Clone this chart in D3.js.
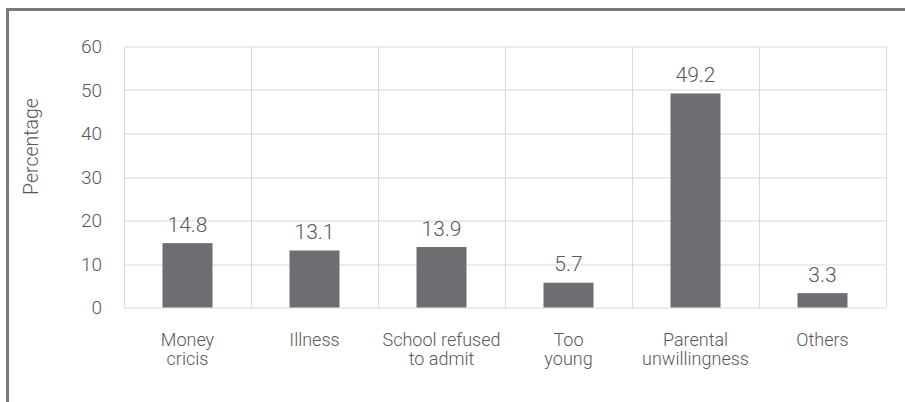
<html>
<head>
<meta charset="UTF-8">
<title>Reasons for not attending school</title>
<script src="https://d3js.org/d3.v7.min.js"></script>
<style>
  html, body { margin: 0; padding: 0; background: #fff; }
  svg text { font-family: Roboto, "Liberation Sans", Arial, sans-serif; font-weight: 300; fill: #585858; }
  .grid line { stroke: #d9d9d9; stroke-width: 1; }
  .bar { fill: #6d6e71; }
</style>
</head>
<body>
<div id="container"></div>
<script>
const categories = [["Money", "cricis"], ["Illness"], ["School refused", "to admit"], ["Too", "young"], ["Parental", "unwillingness"], ["Others"]];
const values = [14.8, 13.1, 13.9, 5.7, 49.2, 3.3];
const yTicks = [0, 10, 20, 30, 40, 50, 60];

const W = 905, H = 402;
const marge = { top: 46.5, left: 124, right: 19, bottom: 94.5 };
const width = W - marge.left - marge.right,
      height = H - marge.top - marge.bottom;

const svg = d3.select("#container").append("svg")
  .attr("width", W).attr("height", H);

// frame (only top and left edges visible)
svg.append("rect")
  .attr("x", 7.5).attr("y", 9.5)
  .attr("width", 1200).attr("height", 1200)
  .attr("fill", "none").attr("stroke", "#7a7a7a").attr("stroke-width", 3);

const g = svg.append("g").attr("transform", "translate(" + marge.left + "," + marge.top + ")");

const xScale = d3.scaleBand().domain(d3.range(categories.length)).range([0, width]).paddingInner(0).paddingOuter(0);
const yScale = d3.scaleLinear().domain([0, 60]).range([height, 0]);

// grid
const grid = g.append("g").attr("class", "grid");
grid.selectAll(".h").data(yTicks).enter().append("line")
  .attr("x1", 0).attr("x2", width)
  .attr("y1", d => Math.round(yScale(d)) + 0.5).attr("y2", d => Math.round(yScale(d)) + 0.5);
grid.selectAll(".v").data(d3.range(categories.length + 1)).enter().append("line")
  .attr("x1", i => Math.round(i * xScale.step()) + 0.5).attr("x2", i => Math.round(i * xScale.step()) + 0.5)
  .attr("y1", 0).attr("y2", height);

// y axis labels
g.selectAll(".ytick").data(yTicks).enter().append("text")
  .attr("x", -22).attr("y", d => yScale(d)).attr("dy", "0.35em")
  .attr("text-anchor", "end").style("font-size", "19px")
  .text(d => d);

// bars
const barW = 50;
g.selectAll(".bar").data(values).enter().append("rect")
  .attr("class", "bar")
  .attr("x", (d, i) => xScale(i) + xScale.bandwidth() / 2 - barW / 2)
  .attr("y", d => yScale(d))
  .attr("width", barW)
  .attr("height", d => height - yScale(d));

// value labels
g.selectAll(".val").data(values).enter().append("text")
  .attr("x", (d, i) => xScale(i) + xScale.bandwidth() / 2)
  .attr("y", d => yScale(d) - 11.5)
  .attr("text-anchor", "middle").style("font-size", "21px")
  .text(d => d.toFixed(1));

// category labels
const cat = g.selectAll(".cat").data(categories).enter().append("text")
  .attr("text-anchor", "middle").style("font-size", "18px")
  .attr("transform", (d, i) => "translate(" + (xScale(i) + xScale.bandwidth() / 2) + "," + (height + 38) + ")");
cat.selectAll("tspan").data(d => d).enter().append("tspan")
  .attr("x", 0).attr("y", (d, i) => i * 19.5)
  .text(d => d);

// y title
svg.append("text")
  .attr("transform", "translate(38,146.5) rotate(-90)")
  .attr("text-anchor", "middle").style("font-size", "19.5px")
  .text("Percentage");
</script>
</body>
</html>
